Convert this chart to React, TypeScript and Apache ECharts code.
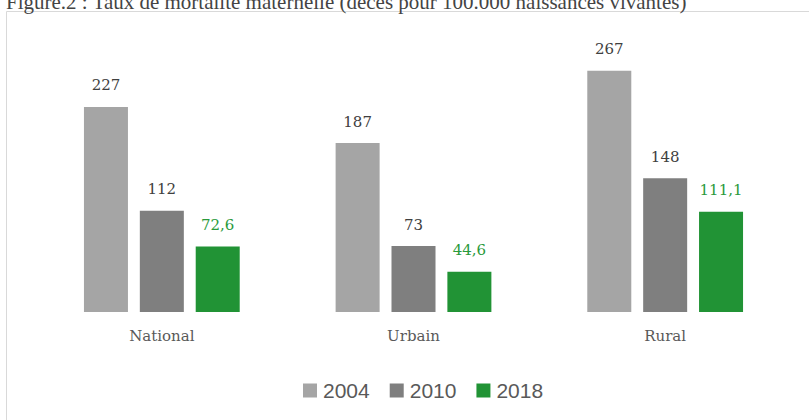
import React, { useEffect, useRef } from "react";
import * as echarts from "echarts";

const categories = ["National", "Urbain", "Rural"];
const seriesNames = ["2004", "2010", "2018"];
const values2004 = [227, 187, 267];
const values2010 = [112, 73, 148];
const values2018 = [72.6, 44.6, 111.1];
const colors = ["#A5A5A5", "#7F7F7F", "#219335"];
const labelColors = ["#404040", "#404040", "#2A9A3C"];
const titleText = "Figure.2 : Taux de mortalité maternelle (décès pour 100.000 naissances vivantes)";

export default function App() {
  const ref = useRef<HTMLDivElement>(null);
  useEffect(() => {
    if (!ref.current) return;
    const chart = echarts.init(ref.current, null, { renderer: "svg" });
    const data = [values2004, values2010, values2018];
    chart.setOption({
      animation: false,
      backgroundColor: "#ffffff",
      grid: { left: 36, right: 18, top: 41, bottom: 108 },
      xAxis: {
        type: "category",
        data: categories,
        axisLine: { show: false },
        axisTick: { show: false },
        axisLabel: {
          color: "#595959",
          fontFamily: "DejaVu Serif",
          fontSize: 15,
          margin: 16,
        },
      },
      yAxis: {
        type: "value",
        min: 0,
        max: 300,
        show: false,
        splitLine: { show: false },
      },
      legend: {
        left: 298,
        top: 375,
        itemWidth: 14,
        itemHeight: 14,
        itemGap: 20,
        icon: "rect",
        textStyle: {
          color: "#595959",
          fontFamily: "Liberation Sans",
          fontSize: 21,
          lineHeight: 21,
          padding: [0, 0, 0, 1],
        },
        data: seriesNames,
      },
      graphic: [
        {
          type: "rect",
          shape: { x: 6.5, y: 11.5, width: 900, height: 500 },
          style: { fill: "none", stroke: "#D9D9D9", lineWidth: 1 },
          silent: true,
        },
        {
          type: "text",
          x: 6,
          y: 12,
          style: {
            text: titleText,
            fontFamily: "Liberation Serif",
            fontSize: 21,
            fill: "#444444",
            verticalAlign: "bottom",
          },
        },
      ],
      series: seriesNames.map((name, i) => ({
        name,
        type: "bar",
        data: data[i],
        barWidth: 44,
        barGap: "27%",
        itemStyle: { color: colors[i] },
        label: {
          show: true,
          position: "top",
          distance: 14,
          color: labelColors[i],
          fontFamily: "DejaVu Serif",
          fontSize: 15,
          formatter: (p: any) => String(p.value).replace(".", ","),
        },
      })),
    });
    return () => chart.dispose();
  }, []);
  return (
    <div
      ref={ref}
      style={{ position: "absolute", left: 0, top: 0, width: 809, height: 420 }}
    />
  );
}
